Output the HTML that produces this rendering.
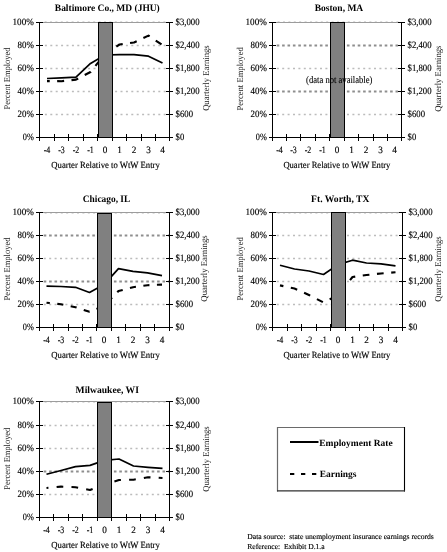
<!DOCTYPE html>
<html><head><meta charset="utf-8"><style>html,body{margin:0;padding:0;background:#fff;}svg{display:block;will-change:transform;}text{font-family:"Liberation Serif",serif;text-rendering:geometricPrecision;}</style></head><body>
<svg width="447" height="552" viewBox="0 0 447 552" font-family="Liberation Serif">
<rect width="447" height="552" fill="#fff"/>
<line x1="44.9" y1="45.5" x2="169" y2="45.5" stroke="#bcbcbc" stroke-width="1.3" stroke-dasharray="2 3.4"/>
<line x1="44.9" y1="68.5" x2="169" y2="68.5" stroke="#bcbcbc" stroke-width="1.3" stroke-dasharray="2 3.4"/>
<line x1="44.9" y1="91.5" x2="169" y2="91.5" stroke="#bcbcbc" stroke-width="1.3" stroke-dasharray="2 3.4"/>
<line x1="44.9" y1="114.5" x2="169" y2="114.5" stroke="#bcbcbc" stroke-width="1.3" stroke-dasharray="2 3.4"/>
<line x1="39" y1="22.5" x2="169" y2="22.5" stroke="#9c9c9c" stroke-width="1"/>
<line x1="44.6" y1="21.5" x2="169" y2="21.5" stroke="#dcdcdc" stroke-width="1" stroke-dasharray="2 3.4"/>
<polyline points="47.00,78.50 61.50,77.80 76.00,77.20 90.50,63.40 105.00,55.00 119.50,54.60 134.00,54.60 148.50,56.20 162.50,63.10" fill="none" stroke="#000" stroke-width="1.7" stroke-linejoin="round"/>
<polyline points="47.00,81.10 61.50,81.20 76.00,79.60 90.50,72.00 105.00,54.00 119.50,44.50 134.00,42.50 148.50,35.60 162.50,45.10" fill="none" stroke="#000" stroke-width="2.1" stroke-dasharray="7.0 7.40" stroke-dashoffset="4.25" stroke-linejoin="round"/>
<rect x="98.5" y="22.5" width="14" height="115" fill="#808080" stroke="#000" stroke-width="1"/>
<line x1="39.5" y1="22" x2="39.5" y2="138" stroke="#000" stroke-width="1"/>
<line x1="169.5" y1="22" x2="169.5" y2="138" stroke="#000" stroke-width="1"/>
<line x1="36" y1="137.5" x2="173" y2="137.5" stroke="#000" stroke-width="1"/>
<line x1="36" y1="22.5" x2="43" y2="22.5" stroke="#000" stroke-width="1"/>
<line x1="166" y1="22.5" x2="173" y2="22.5" stroke="#000" stroke-width="1"/>
<line x1="36" y1="45.5" x2="43" y2="45.5" stroke="#000" stroke-width="1"/>
<line x1="166" y1="45.5" x2="173" y2="45.5" stroke="#000" stroke-width="1"/>
<line x1="36" y1="68.5" x2="43" y2="68.5" stroke="#000" stroke-width="1"/>
<line x1="166" y1="68.5" x2="173" y2="68.5" stroke="#000" stroke-width="1"/>
<line x1="36" y1="91.5" x2="43" y2="91.5" stroke="#000" stroke-width="1"/>
<line x1="166" y1="91.5" x2="173" y2="91.5" stroke="#000" stroke-width="1"/>
<line x1="36" y1="114.5" x2="43" y2="114.5" stroke="#000" stroke-width="1"/>
<line x1="166" y1="114.5" x2="173" y2="114.5" stroke="#000" stroke-width="1"/>
<line x1="36" y1="137.5" x2="43" y2="137.5" stroke="#000" stroke-width="1"/>
<line x1="166" y1="137.5" x2="173" y2="137.5" stroke="#000" stroke-width="1"/>
<line x1="39.5" y1="134" x2="39.5" y2="141" stroke="#000" stroke-width="1"/>
<line x1="54.5" y1="134" x2="54.5" y2="141" stroke="#000" stroke-width="1"/>
<line x1="68.5" y1="134" x2="68.5" y2="141" stroke="#000" stroke-width="1"/>
<line x1="83.5" y1="134" x2="83.5" y2="141" stroke="#000" stroke-width="1"/>
<line x1="97.5" y1="134" x2="97.5" y2="141" stroke="#000" stroke-width="1"/>
<line x1="112.5" y1="134" x2="112.5" y2="141" stroke="#000" stroke-width="1"/>
<line x1="126.5" y1="134" x2="126.5" y2="141" stroke="#000" stroke-width="1"/>
<line x1="141.5" y1="134" x2="141.5" y2="141" stroke="#000" stroke-width="1"/>
<line x1="155.5" y1="134" x2="155.5" y2="141" stroke="#000" stroke-width="1"/>
<line x1="169.5" y1="134" x2="169.5" y2="141" stroke="#000" stroke-width="1"/>
<text x="33.80" y="25.20" font-size="9.6" font-weight="normal" text-anchor="end" fill="#000" textLength="21.30" lengthAdjust="spacingAndGlyphs" stroke="#000" stroke-width="0.15">100%</text>
<text x="175.60" y="25.20" font-size="9.6" font-weight="normal" text-anchor="start" fill="#000" textLength="24.00" lengthAdjust="spacingAndGlyphs" stroke="#000" stroke-width="0.15">$3,000</text>
<text x="33.80" y="48.20" font-size="9.6" font-weight="normal" text-anchor="end" fill="#000" textLength="16.30" lengthAdjust="spacingAndGlyphs" stroke="#000" stroke-width="0.15">80%</text>
<text x="175.60" y="48.20" font-size="9.6" font-weight="normal" text-anchor="start" fill="#000" textLength="24.00" lengthAdjust="spacingAndGlyphs" stroke="#000" stroke-width="0.15">$2,400</text>
<text x="33.80" y="71.20" font-size="9.6" font-weight="normal" text-anchor="end" fill="#000" textLength="16.30" lengthAdjust="spacingAndGlyphs" stroke="#000" stroke-width="0.15">60%</text>
<text x="175.60" y="71.20" font-size="9.6" font-weight="normal" text-anchor="start" fill="#000" textLength="24.00" lengthAdjust="spacingAndGlyphs" stroke="#000" stroke-width="0.15">$1,800</text>
<text x="33.80" y="94.20" font-size="9.6" font-weight="normal" text-anchor="end" fill="#000" textLength="16.30" lengthAdjust="spacingAndGlyphs" stroke="#000" stroke-width="0.15">40%</text>
<text x="175.60" y="94.20" font-size="9.6" font-weight="normal" text-anchor="start" fill="#000" textLength="24.00" lengthAdjust="spacingAndGlyphs" stroke="#000" stroke-width="0.15">$1,200</text>
<text x="33.80" y="117.20" font-size="9.6" font-weight="normal" text-anchor="end" fill="#000" textLength="16.30" lengthAdjust="spacingAndGlyphs" stroke="#000" stroke-width="0.15">20%</text>
<text x="175.60" y="117.20" font-size="9.6" font-weight="normal" text-anchor="start" fill="#000" textLength="17.40" lengthAdjust="spacingAndGlyphs" stroke="#000" stroke-width="0.15">$600</text>
<text x="33.80" y="140.20" font-size="9.6" font-weight="normal" text-anchor="end" fill="#000" textLength="11.00" lengthAdjust="spacingAndGlyphs" stroke="#000" stroke-width="0.15">0%</text>
<text x="175.60" y="140.20" font-size="9.6" font-weight="normal" text-anchor="start" fill="#000" textLength="8.60" lengthAdjust="spacingAndGlyphs" stroke="#000" stroke-width="0.15">$0</text>
<text x="47.00" y="152.80" font-size="9.8" font-weight="normal" text-anchor="middle" fill="#000" textLength="6.60" lengthAdjust="spacingAndGlyphs" stroke="#000" stroke-width="0.15">-4</text>
<text x="61.50" y="152.80" font-size="9.8" font-weight="normal" text-anchor="middle" fill="#000" textLength="6.60" lengthAdjust="spacingAndGlyphs" stroke="#000" stroke-width="0.15">-3</text>
<text x="76.00" y="152.80" font-size="9.8" font-weight="normal" text-anchor="middle" fill="#000" textLength="6.60" lengthAdjust="spacingAndGlyphs" stroke="#000" stroke-width="0.15">-2</text>
<text x="90.50" y="152.80" font-size="9.8" font-weight="normal" text-anchor="middle" fill="#000" textLength="6.60" lengthAdjust="spacingAndGlyphs" stroke="#000" stroke-width="0.15">-1</text>
<text x="105.00" y="152.80" font-size="9.8" font-weight="normal" text-anchor="middle" fill="#000" textLength="4.60" lengthAdjust="spacingAndGlyphs" stroke="#000" stroke-width="0.15">0</text>
<text x="119.50" y="152.80" font-size="9.8" font-weight="normal" text-anchor="middle" fill="#000" textLength="4.60" lengthAdjust="spacingAndGlyphs" stroke="#000" stroke-width="0.15">1</text>
<text x="134.00" y="152.80" font-size="9.8" font-weight="normal" text-anchor="middle" fill="#000" textLength="4.60" lengthAdjust="spacingAndGlyphs" stroke="#000" stroke-width="0.15">2</text>
<text x="148.50" y="152.80" font-size="9.8" font-weight="normal" text-anchor="middle" fill="#000" textLength="4.60" lengthAdjust="spacingAndGlyphs" stroke="#000" stroke-width="0.15">3</text>
<text x="162.50" y="152.80" font-size="9.8" font-weight="normal" text-anchor="middle" fill="#000" textLength="4.60" lengthAdjust="spacingAndGlyphs" stroke="#000" stroke-width="0.15">4</text>
<text x="51.30" y="167.80" font-size="9.4" font-weight="normal" text-anchor="start" fill="#000" textLength="108.50" lengthAdjust="spacingAndGlyphs" stroke="#000" stroke-width="0.15">Quarter Relative to WtW Entry</text>
<text transform="translate(9.90,78.50) rotate(-90)" x="0" y="0" font-size="9" font-weight="normal" text-anchor="middle" fill="#222" textLength="62.00" lengthAdjust="spacingAndGlyphs">Percent Employed</text>
<text transform="translate(209.20,78.10) rotate(-90)" x="0" y="0" font-size="9" font-weight="normal" text-anchor="middle" fill="#222" textLength="65.50" lengthAdjust="spacingAndGlyphs">Quarterly Earnings</text>
<text x="54.80" y="11.00" font-size="9.8" font-weight="bold" text-anchor="start" fill="#000" textLength="105.00" lengthAdjust="spacingAndGlyphs">Baltimore Co., MD (JHU)</text>
<line x1="276.7" y1="45.5" x2="401" y2="45.5" stroke="#8e8e8e" stroke-width="1.8" stroke-dasharray="2.6 2.8"/>
<line x1="276.8" y1="68.5" x2="401" y2="68.5" stroke="#bcbcbc" stroke-width="1.3" stroke-dasharray="2 3.4"/>
<line x1="276.7" y1="91.5" x2="401" y2="91.5" stroke="#8e8e8e" stroke-width="1.8" stroke-dasharray="2.6 2.8"/>
<line x1="276.8" y1="114.5" x2="401" y2="114.5" stroke="#bcbcbc" stroke-width="1.3" stroke-dasharray="2 3.4"/>
<line x1="272" y1="22.5" x2="401" y2="22.5" stroke="#9c9c9c" stroke-width="1"/>
<line x1="277.6" y1="21.5" x2="401" y2="21.5" stroke="#dcdcdc" stroke-width="1" stroke-dasharray="2 3.4"/>
<rect x="330.5" y="22.5" width="14" height="115" fill="#808080" stroke="#000" stroke-width="1"/>
<line x1="272.5" y1="22" x2="272.5" y2="138" stroke="#000" stroke-width="1"/>
<line x1="401.5" y1="22" x2="401.5" y2="138" stroke="#000" stroke-width="1"/>
<line x1="269" y1="137.5" x2="405" y2="137.5" stroke="#000" stroke-width="1"/>
<line x1="269" y1="22.5" x2="276" y2="22.5" stroke="#000" stroke-width="1"/>
<line x1="398" y1="22.5" x2="405" y2="22.5" stroke="#000" stroke-width="1"/>
<line x1="269" y1="45.5" x2="276" y2="45.5" stroke="#000" stroke-width="1"/>
<line x1="398" y1="45.5" x2="405" y2="45.5" stroke="#000" stroke-width="1"/>
<line x1="269" y1="68.5" x2="276" y2="68.5" stroke="#000" stroke-width="1"/>
<line x1="398" y1="68.5" x2="405" y2="68.5" stroke="#000" stroke-width="1"/>
<line x1="269" y1="91.5" x2="276" y2="91.5" stroke="#000" stroke-width="1"/>
<line x1="398" y1="91.5" x2="405" y2="91.5" stroke="#000" stroke-width="1"/>
<line x1="269" y1="114.5" x2="276" y2="114.5" stroke="#000" stroke-width="1"/>
<line x1="398" y1="114.5" x2="405" y2="114.5" stroke="#000" stroke-width="1"/>
<line x1="269" y1="137.5" x2="276" y2="137.5" stroke="#000" stroke-width="1"/>
<line x1="398" y1="137.5" x2="405" y2="137.5" stroke="#000" stroke-width="1"/>
<line x1="272.5" y1="134" x2="272.5" y2="141" stroke="#000" stroke-width="1"/>
<line x1="286.5" y1="134" x2="286.5" y2="141" stroke="#000" stroke-width="1"/>
<line x1="300.5" y1="134" x2="300.5" y2="141" stroke="#000" stroke-width="1"/>
<line x1="315.5" y1="134" x2="315.5" y2="141" stroke="#000" stroke-width="1"/>
<line x1="329.5" y1="134" x2="329.5" y2="141" stroke="#000" stroke-width="1"/>
<line x1="344.5" y1="134" x2="344.5" y2="141" stroke="#000" stroke-width="1"/>
<line x1="358.5" y1="134" x2="358.5" y2="141" stroke="#000" stroke-width="1"/>
<line x1="373.5" y1="134" x2="373.5" y2="141" stroke="#000" stroke-width="1"/>
<line x1="387.5" y1="134" x2="387.5" y2="141" stroke="#000" stroke-width="1"/>
<line x1="401.5" y1="134" x2="401.5" y2="141" stroke="#000" stroke-width="1"/>
<text x="266.80" y="25.20" font-size="9.6" font-weight="normal" text-anchor="end" fill="#000" textLength="21.30" lengthAdjust="spacingAndGlyphs" stroke="#000" stroke-width="0.15">100%</text>
<text x="407.60" y="25.20" font-size="9.6" font-weight="normal" text-anchor="start" fill="#000" textLength="24.00" lengthAdjust="spacingAndGlyphs" stroke="#000" stroke-width="0.15">$3,000</text>
<text x="266.80" y="48.20" font-size="9.6" font-weight="normal" text-anchor="end" fill="#000" textLength="16.30" lengthAdjust="spacingAndGlyphs" stroke="#000" stroke-width="0.15">80%</text>
<text x="407.60" y="48.20" font-size="9.6" font-weight="normal" text-anchor="start" fill="#000" textLength="24.00" lengthAdjust="spacingAndGlyphs" stroke="#000" stroke-width="0.15">$2,400</text>
<text x="266.80" y="71.20" font-size="9.6" font-weight="normal" text-anchor="end" fill="#000" textLength="16.30" lengthAdjust="spacingAndGlyphs" stroke="#000" stroke-width="0.15">60%</text>
<text x="407.60" y="71.20" font-size="9.6" font-weight="normal" text-anchor="start" fill="#000" textLength="24.00" lengthAdjust="spacingAndGlyphs" stroke="#000" stroke-width="0.15">$1,800</text>
<text x="266.80" y="94.20" font-size="9.6" font-weight="normal" text-anchor="end" fill="#000" textLength="16.30" lengthAdjust="spacingAndGlyphs" stroke="#000" stroke-width="0.15">40%</text>
<text x="407.60" y="94.20" font-size="9.6" font-weight="normal" text-anchor="start" fill="#000" textLength="24.00" lengthAdjust="spacingAndGlyphs" stroke="#000" stroke-width="0.15">$1,200</text>
<text x="266.80" y="117.20" font-size="9.6" font-weight="normal" text-anchor="end" fill="#000" textLength="16.30" lengthAdjust="spacingAndGlyphs" stroke="#000" stroke-width="0.15">20%</text>
<text x="407.60" y="117.20" font-size="9.6" font-weight="normal" text-anchor="start" fill="#000" textLength="17.40" lengthAdjust="spacingAndGlyphs" stroke="#000" stroke-width="0.15">$600</text>
<text x="266.80" y="140.20" font-size="9.6" font-weight="normal" text-anchor="end" fill="#000" textLength="11.00" lengthAdjust="spacingAndGlyphs" stroke="#000" stroke-width="0.15">0%</text>
<text x="407.60" y="140.20" font-size="9.6" font-weight="normal" text-anchor="start" fill="#000" textLength="8.60" lengthAdjust="spacingAndGlyphs" stroke="#000" stroke-width="0.15">$0</text>
<text x="279.50" y="152.80" font-size="9.8" font-weight="normal" text-anchor="middle" fill="#000" textLength="6.60" lengthAdjust="spacingAndGlyphs" stroke="#000" stroke-width="0.15">-4</text>
<text x="293.50" y="152.80" font-size="9.8" font-weight="normal" text-anchor="middle" fill="#000" textLength="6.60" lengthAdjust="spacingAndGlyphs" stroke="#000" stroke-width="0.15">-3</text>
<text x="308.00" y="152.80" font-size="9.8" font-weight="normal" text-anchor="middle" fill="#000" textLength="6.60" lengthAdjust="spacingAndGlyphs" stroke="#000" stroke-width="0.15">-2</text>
<text x="322.50" y="152.80" font-size="9.8" font-weight="normal" text-anchor="middle" fill="#000" textLength="6.60" lengthAdjust="spacingAndGlyphs" stroke="#000" stroke-width="0.15">-1</text>
<text x="337.00" y="152.80" font-size="9.8" font-weight="normal" text-anchor="middle" fill="#000" textLength="4.60" lengthAdjust="spacingAndGlyphs" stroke="#000" stroke-width="0.15">0</text>
<text x="351.50" y="152.80" font-size="9.8" font-weight="normal" text-anchor="middle" fill="#000" textLength="4.60" lengthAdjust="spacingAndGlyphs" stroke="#000" stroke-width="0.15">1</text>
<text x="366.00" y="152.80" font-size="9.8" font-weight="normal" text-anchor="middle" fill="#000" textLength="4.60" lengthAdjust="spacingAndGlyphs" stroke="#000" stroke-width="0.15">2</text>
<text x="380.50" y="152.80" font-size="9.8" font-weight="normal" text-anchor="middle" fill="#000" textLength="4.60" lengthAdjust="spacingAndGlyphs" stroke="#000" stroke-width="0.15">3</text>
<text x="394.50" y="152.80" font-size="9.8" font-weight="normal" text-anchor="middle" fill="#000" textLength="4.60" lengthAdjust="spacingAndGlyphs" stroke="#000" stroke-width="0.15">4</text>
<text x="283.40" y="167.80" font-size="9.4" font-weight="normal" text-anchor="start" fill="#000" textLength="107.00" lengthAdjust="spacingAndGlyphs" stroke="#000" stroke-width="0.15">Quarter Relative to WtW Entry</text>
<text transform="translate(242.60,78.90) rotate(-90)" x="0" y="0" font-size="9" font-weight="normal" text-anchor="middle" fill="#222" textLength="63.40" lengthAdjust="spacingAndGlyphs">Percent Employed</text>
<text transform="translate(440.80,78.70) rotate(-90)" x="0" y="0" font-size="9" font-weight="normal" text-anchor="middle" fill="#222" textLength="66.30" lengthAdjust="spacingAndGlyphs">Quarterly Earnings</text>
<text x="314.70" y="11.00" font-size="9.8" font-weight="bold" text-anchor="start" fill="#000" textLength="48.50" lengthAdjust="spacingAndGlyphs">Boston, MA</text>
<text x="306.1" y="83.2" font-size="10" textLength="66.3" lengthAdjust="spacingAndGlyphs" stroke="#000" stroke-width="0.12">(data not available)</text>
<line x1="43.7" y1="235.5" x2="169" y2="235.5" stroke="#8e8e8e" stroke-width="1.8" stroke-dasharray="2.6 2.8"/>
<line x1="43.8" y1="258.5" x2="169" y2="258.5" stroke="#bcbcbc" stroke-width="1.3" stroke-dasharray="2 3.4"/>
<line x1="43.7" y1="281.5" x2="169" y2="281.5" stroke="#8e8e8e" stroke-width="1.8" stroke-dasharray="2.6 2.8"/>
<line x1="43.8" y1="304.5" x2="169" y2="304.5" stroke="#bcbcbc" stroke-width="1.3" stroke-dasharray="2 3.4"/>
<line x1="39" y1="212.5" x2="169" y2="212.5" stroke="#9c9c9c" stroke-width="1"/>
<line x1="44.6" y1="213.5" x2="169" y2="213.5" stroke="#dcdcdc" stroke-width="1" stroke-dasharray="2 3.4"/>
<polyline points="46.50,286.20 61.00,286.50 75.50,287.30 89.50,292.50 104.00,284.60 118.50,268.60 133.00,271.30 147.50,272.80 162.00,275.60" fill="none" stroke="#000" stroke-width="1.7" stroke-linejoin="round"/>
<polyline points="46.50,302.70 61.00,304.30 75.50,307.20 89.50,311.80 104.00,306.00 118.50,291.00 133.00,287.20 147.50,285.20 162.00,284.60" fill="none" stroke="#000" stroke-width="2.1" stroke-dasharray="6.1 7.50" stroke-dashoffset="2.75" stroke-linejoin="round"/>
<rect x="97.5" y="213.5" width="14" height="114" fill="#808080" stroke="#000" stroke-width="1"/>
<line x1="39.5" y1="212" x2="39.5" y2="328" stroke="#000" stroke-width="1"/>
<line x1="169.5" y1="212" x2="169.5" y2="328" stroke="#000" stroke-width="1"/>
<line x1="36" y1="327.5" x2="173" y2="327.5" stroke="#000" stroke-width="1"/>
<line x1="36" y1="212.5" x2="43" y2="212.5" stroke="#000" stroke-width="1"/>
<line x1="166" y1="212.5" x2="173" y2="212.5" stroke="#000" stroke-width="1"/>
<line x1="36" y1="235.5" x2="43" y2="235.5" stroke="#000" stroke-width="1"/>
<line x1="166" y1="235.5" x2="173" y2="235.5" stroke="#000" stroke-width="1"/>
<line x1="36" y1="258.5" x2="43" y2="258.5" stroke="#000" stroke-width="1"/>
<line x1="166" y1="258.5" x2="173" y2="258.5" stroke="#000" stroke-width="1"/>
<line x1="36" y1="281.5" x2="43" y2="281.5" stroke="#000" stroke-width="1"/>
<line x1="166" y1="281.5" x2="173" y2="281.5" stroke="#000" stroke-width="1"/>
<line x1="36" y1="304.5" x2="43" y2="304.5" stroke="#000" stroke-width="1"/>
<line x1="166" y1="304.5" x2="173" y2="304.5" stroke="#000" stroke-width="1"/>
<line x1="36" y1="327.5" x2="43" y2="327.5" stroke="#000" stroke-width="1"/>
<line x1="166" y1="327.5" x2="173" y2="327.5" stroke="#000" stroke-width="1"/>
<line x1="39.5" y1="324" x2="39.5" y2="331" stroke="#000" stroke-width="1"/>
<line x1="53.5" y1="324" x2="53.5" y2="331" stroke="#000" stroke-width="1"/>
<line x1="68.5" y1="324" x2="68.5" y2="331" stroke="#000" stroke-width="1"/>
<line x1="82.5" y1="324" x2="82.5" y2="331" stroke="#000" stroke-width="1"/>
<line x1="96.5" y1="324" x2="96.5" y2="331" stroke="#000" stroke-width="1"/>
<line x1="111.5" y1="324" x2="111.5" y2="331" stroke="#000" stroke-width="1"/>
<line x1="125.5" y1="324" x2="125.5" y2="331" stroke="#000" stroke-width="1"/>
<line x1="140.5" y1="324" x2="140.5" y2="331" stroke="#000" stroke-width="1"/>
<line x1="154.5" y1="324" x2="154.5" y2="331" stroke="#000" stroke-width="1"/>
<line x1="169.5" y1="324" x2="169.5" y2="331" stroke="#000" stroke-width="1"/>
<text x="33.80" y="215.20" font-size="9.6" font-weight="normal" text-anchor="end" fill="#000" textLength="21.30" lengthAdjust="spacingAndGlyphs" stroke="#000" stroke-width="0.15">100%</text>
<text x="175.60" y="215.20" font-size="9.6" font-weight="normal" text-anchor="start" fill="#000" textLength="24.00" lengthAdjust="spacingAndGlyphs" stroke="#000" stroke-width="0.15">$3,000</text>
<text x="33.80" y="238.20" font-size="9.6" font-weight="normal" text-anchor="end" fill="#000" textLength="16.30" lengthAdjust="spacingAndGlyphs" stroke="#000" stroke-width="0.15">80%</text>
<text x="175.60" y="238.20" font-size="9.6" font-weight="normal" text-anchor="start" fill="#000" textLength="24.00" lengthAdjust="spacingAndGlyphs" stroke="#000" stroke-width="0.15">$2,400</text>
<text x="33.80" y="261.20" font-size="9.6" font-weight="normal" text-anchor="end" fill="#000" textLength="16.30" lengthAdjust="spacingAndGlyphs" stroke="#000" stroke-width="0.15">60%</text>
<text x="175.60" y="261.20" font-size="9.6" font-weight="normal" text-anchor="start" fill="#000" textLength="24.00" lengthAdjust="spacingAndGlyphs" stroke="#000" stroke-width="0.15">$1,800</text>
<text x="33.80" y="284.20" font-size="9.6" font-weight="normal" text-anchor="end" fill="#000" textLength="16.30" lengthAdjust="spacingAndGlyphs" stroke="#000" stroke-width="0.15">40%</text>
<text x="175.60" y="284.20" font-size="9.6" font-weight="normal" text-anchor="start" fill="#000" textLength="24.00" lengthAdjust="spacingAndGlyphs" stroke="#000" stroke-width="0.15">$1,200</text>
<text x="33.80" y="307.20" font-size="9.6" font-weight="normal" text-anchor="end" fill="#000" textLength="16.30" lengthAdjust="spacingAndGlyphs" stroke="#000" stroke-width="0.15">20%</text>
<text x="175.60" y="307.20" font-size="9.6" font-weight="normal" text-anchor="start" fill="#000" textLength="17.40" lengthAdjust="spacingAndGlyphs" stroke="#000" stroke-width="0.15">$600</text>
<text x="33.80" y="330.20" font-size="9.6" font-weight="normal" text-anchor="end" fill="#000" textLength="11.00" lengthAdjust="spacingAndGlyphs" stroke="#000" stroke-width="0.15">0%</text>
<text x="175.60" y="330.20" font-size="9.6" font-weight="normal" text-anchor="start" fill="#000" textLength="8.60" lengthAdjust="spacingAndGlyphs" stroke="#000" stroke-width="0.15">$0</text>
<text x="46.50" y="342.80" font-size="9.8" font-weight="normal" text-anchor="middle" fill="#000" textLength="6.60" lengthAdjust="spacingAndGlyphs" stroke="#000" stroke-width="0.15">-4</text>
<text x="61.00" y="342.80" font-size="9.8" font-weight="normal" text-anchor="middle" fill="#000" textLength="6.60" lengthAdjust="spacingAndGlyphs" stroke="#000" stroke-width="0.15">-3</text>
<text x="75.50" y="342.80" font-size="9.8" font-weight="normal" text-anchor="middle" fill="#000" textLength="6.60" lengthAdjust="spacingAndGlyphs" stroke="#000" stroke-width="0.15">-2</text>
<text x="89.50" y="342.80" font-size="9.8" font-weight="normal" text-anchor="middle" fill="#000" textLength="6.60" lengthAdjust="spacingAndGlyphs" stroke="#000" stroke-width="0.15">-1</text>
<text x="104.00" y="342.80" font-size="9.8" font-weight="normal" text-anchor="middle" fill="#000" textLength="4.60" lengthAdjust="spacingAndGlyphs" stroke="#000" stroke-width="0.15">0</text>
<text x="118.50" y="342.80" font-size="9.8" font-weight="normal" text-anchor="middle" fill="#000" textLength="4.60" lengthAdjust="spacingAndGlyphs" stroke="#000" stroke-width="0.15">1</text>
<text x="133.00" y="342.80" font-size="9.8" font-weight="normal" text-anchor="middle" fill="#000" textLength="4.60" lengthAdjust="spacingAndGlyphs" stroke="#000" stroke-width="0.15">2</text>
<text x="147.50" y="342.80" font-size="9.8" font-weight="normal" text-anchor="middle" fill="#000" textLength="4.60" lengthAdjust="spacingAndGlyphs" stroke="#000" stroke-width="0.15">3</text>
<text x="162.00" y="342.80" font-size="9.8" font-weight="normal" text-anchor="middle" fill="#000" textLength="4.60" lengthAdjust="spacingAndGlyphs" stroke="#000" stroke-width="0.15">4</text>
<text x="51.30" y="357.80" font-size="9.4" font-weight="normal" text-anchor="start" fill="#000" textLength="108.50" lengthAdjust="spacingAndGlyphs" stroke="#000" stroke-width="0.15">Quarter Relative to WtW Entry</text>
<text transform="translate(9.90,268.90) rotate(-90)" x="0" y="0" font-size="9" font-weight="normal" text-anchor="middle" fill="#222" textLength="63.00" lengthAdjust="spacingAndGlyphs">Percent Employed</text>
<text transform="translate(207.30,268.50) rotate(-90)" x="0" y="0" font-size="9" font-weight="normal" text-anchor="middle" fill="#222" textLength="66.30" lengthAdjust="spacingAndGlyphs">Quarterly Earnings</text>
<text x="82.80" y="201.80" font-size="9.8" font-weight="bold" text-anchor="start" fill="#000" textLength="47.50" lengthAdjust="spacingAndGlyphs">Chicago, IL</text>
<line x1="276.8" y1="235.5" x2="402" y2="235.5" stroke="#bcbcbc" stroke-width="1.3" stroke-dasharray="2 3.4"/>
<line x1="276.8" y1="258.5" x2="402" y2="258.5" stroke="#bcbcbc" stroke-width="1.3" stroke-dasharray="2 3.4"/>
<line x1="276.8" y1="281.5" x2="402" y2="281.5" stroke="#bcbcbc" stroke-width="1.3" stroke-dasharray="2 3.4"/>
<line x1="276.8" y1="304.5" x2="402" y2="304.5" stroke="#bcbcbc" stroke-width="1.3" stroke-dasharray="2 3.4"/>
<line x1="272" y1="212.5" x2="402" y2="212.5" stroke="#9c9c9c" stroke-width="1"/>
<line x1="277.6" y1="213.5" x2="402" y2="213.5" stroke="#dcdcdc" stroke-width="1" stroke-dasharray="2 3.4"/>
<polyline points="280.00,265.20 294.50,269.00 309.00,271.00 323.50,274.50 338.00,264.60 352.50,260.20 366.50,263.00 381.00,263.80 395.50,265.90" fill="none" stroke="#000" stroke-width="1.7" stroke-linejoin="round"/>
<polyline points="280.00,285.40 294.50,288.50 309.00,295.00 323.50,302.50 338.00,295.00 352.50,277.00 366.50,275.00 381.00,273.50 395.50,272.20" fill="none" stroke="#000" stroke-width="2.1" stroke-dasharray="6.7 7.60" stroke-dashoffset="3.25" stroke-linejoin="round"/>
<rect x="331.5" y="212.5" width="14" height="115" fill="#808080" stroke="#000" stroke-width="1"/>
<line x1="272.5" y1="212" x2="272.5" y2="328" stroke="#000" stroke-width="1"/>
<line x1="402.5" y1="212" x2="402.5" y2="328" stroke="#000" stroke-width="1"/>
<line x1="269" y1="327.5" x2="406" y2="327.5" stroke="#000" stroke-width="1"/>
<line x1="269" y1="212.5" x2="276" y2="212.5" stroke="#000" stroke-width="1"/>
<line x1="399" y1="212.5" x2="406" y2="212.5" stroke="#000" stroke-width="1"/>
<line x1="269" y1="235.5" x2="276" y2="235.5" stroke="#000" stroke-width="1"/>
<line x1="399" y1="235.5" x2="406" y2="235.5" stroke="#000" stroke-width="1"/>
<line x1="269" y1="258.5" x2="276" y2="258.5" stroke="#000" stroke-width="1"/>
<line x1="399" y1="258.5" x2="406" y2="258.5" stroke="#000" stroke-width="1"/>
<line x1="269" y1="281.5" x2="276" y2="281.5" stroke="#000" stroke-width="1"/>
<line x1="399" y1="281.5" x2="406" y2="281.5" stroke="#000" stroke-width="1"/>
<line x1="269" y1="304.5" x2="276" y2="304.5" stroke="#000" stroke-width="1"/>
<line x1="399" y1="304.5" x2="406" y2="304.5" stroke="#000" stroke-width="1"/>
<line x1="269" y1="327.5" x2="276" y2="327.5" stroke="#000" stroke-width="1"/>
<line x1="399" y1="327.5" x2="406" y2="327.5" stroke="#000" stroke-width="1"/>
<line x1="272.5" y1="324" x2="272.5" y2="331" stroke="#000" stroke-width="1"/>
<line x1="287.5" y1="324" x2="287.5" y2="331" stroke="#000" stroke-width="1"/>
<line x1="301.5" y1="324" x2="301.5" y2="331" stroke="#000" stroke-width="1"/>
<line x1="316.5" y1="324" x2="316.5" y2="331" stroke="#000" stroke-width="1"/>
<line x1="330.5" y1="324" x2="330.5" y2="331" stroke="#000" stroke-width="1"/>
<line x1="345.5" y1="324" x2="345.5" y2="331" stroke="#000" stroke-width="1"/>
<line x1="359.5" y1="324" x2="359.5" y2="331" stroke="#000" stroke-width="1"/>
<line x1="373.5" y1="324" x2="373.5" y2="331" stroke="#000" stroke-width="1"/>
<line x1="388.5" y1="324" x2="388.5" y2="331" stroke="#000" stroke-width="1"/>
<line x1="402.5" y1="324" x2="402.5" y2="331" stroke="#000" stroke-width="1"/>
<text x="266.80" y="215.20" font-size="9.6" font-weight="normal" text-anchor="end" fill="#000" textLength="21.30" lengthAdjust="spacingAndGlyphs" stroke="#000" stroke-width="0.15">100%</text>
<text x="408.60" y="215.20" font-size="9.6" font-weight="normal" text-anchor="start" fill="#000" textLength="24.00" lengthAdjust="spacingAndGlyphs" stroke="#000" stroke-width="0.15">$3,000</text>
<text x="266.80" y="238.20" font-size="9.6" font-weight="normal" text-anchor="end" fill="#000" textLength="16.30" lengthAdjust="spacingAndGlyphs" stroke="#000" stroke-width="0.15">80%</text>
<text x="408.60" y="238.20" font-size="9.6" font-weight="normal" text-anchor="start" fill="#000" textLength="24.00" lengthAdjust="spacingAndGlyphs" stroke="#000" stroke-width="0.15">$2,400</text>
<text x="266.80" y="261.20" font-size="9.6" font-weight="normal" text-anchor="end" fill="#000" textLength="16.30" lengthAdjust="spacingAndGlyphs" stroke="#000" stroke-width="0.15">60%</text>
<text x="408.60" y="261.20" font-size="9.6" font-weight="normal" text-anchor="start" fill="#000" textLength="24.00" lengthAdjust="spacingAndGlyphs" stroke="#000" stroke-width="0.15">$1,800</text>
<text x="266.80" y="284.20" font-size="9.6" font-weight="normal" text-anchor="end" fill="#000" textLength="16.30" lengthAdjust="spacingAndGlyphs" stroke="#000" stroke-width="0.15">40%</text>
<text x="408.60" y="284.20" font-size="9.6" font-weight="normal" text-anchor="start" fill="#000" textLength="24.00" lengthAdjust="spacingAndGlyphs" stroke="#000" stroke-width="0.15">$1,200</text>
<text x="266.80" y="307.20" font-size="9.6" font-weight="normal" text-anchor="end" fill="#000" textLength="16.30" lengthAdjust="spacingAndGlyphs" stroke="#000" stroke-width="0.15">20%</text>
<text x="408.60" y="307.20" font-size="9.6" font-weight="normal" text-anchor="start" fill="#000" textLength="17.40" lengthAdjust="spacingAndGlyphs" stroke="#000" stroke-width="0.15">$600</text>
<text x="266.80" y="330.20" font-size="9.6" font-weight="normal" text-anchor="end" fill="#000" textLength="11.00" lengthAdjust="spacingAndGlyphs" stroke="#000" stroke-width="0.15">0%</text>
<text x="408.60" y="330.20" font-size="9.6" font-weight="normal" text-anchor="start" fill="#000" textLength="8.60" lengthAdjust="spacingAndGlyphs" stroke="#000" stroke-width="0.15">$0</text>
<text x="280.00" y="342.80" font-size="9.8" font-weight="normal" text-anchor="middle" fill="#000" textLength="6.60" lengthAdjust="spacingAndGlyphs" stroke="#000" stroke-width="0.15">-4</text>
<text x="294.50" y="342.80" font-size="9.8" font-weight="normal" text-anchor="middle" fill="#000" textLength="6.60" lengthAdjust="spacingAndGlyphs" stroke="#000" stroke-width="0.15">-3</text>
<text x="309.00" y="342.80" font-size="9.8" font-weight="normal" text-anchor="middle" fill="#000" textLength="6.60" lengthAdjust="spacingAndGlyphs" stroke="#000" stroke-width="0.15">-2</text>
<text x="323.50" y="342.80" font-size="9.8" font-weight="normal" text-anchor="middle" fill="#000" textLength="6.60" lengthAdjust="spacingAndGlyphs" stroke="#000" stroke-width="0.15">-1</text>
<text x="338.00" y="342.80" font-size="9.8" font-weight="normal" text-anchor="middle" fill="#000" textLength="4.60" lengthAdjust="spacingAndGlyphs" stroke="#000" stroke-width="0.15">0</text>
<text x="352.50" y="342.80" font-size="9.8" font-weight="normal" text-anchor="middle" fill="#000" textLength="4.60" lengthAdjust="spacingAndGlyphs" stroke="#000" stroke-width="0.15">1</text>
<text x="366.50" y="342.80" font-size="9.8" font-weight="normal" text-anchor="middle" fill="#000" textLength="4.60" lengthAdjust="spacingAndGlyphs" stroke="#000" stroke-width="0.15">2</text>
<text x="381.00" y="342.80" font-size="9.8" font-weight="normal" text-anchor="middle" fill="#000" textLength="4.60" lengthAdjust="spacingAndGlyphs" stroke="#000" stroke-width="0.15">3</text>
<text x="395.50" y="342.80" font-size="9.8" font-weight="normal" text-anchor="middle" fill="#000" textLength="4.60" lengthAdjust="spacingAndGlyphs" stroke="#000" stroke-width="0.15">4</text>
<text x="283.40" y="357.80" font-size="9.4" font-weight="normal" text-anchor="start" fill="#000" textLength="107.00" lengthAdjust="spacingAndGlyphs" stroke="#000" stroke-width="0.15">Quarter Relative to WtW Entry</text>
<text transform="translate(242.80,268.90) rotate(-90)" x="0" y="0" font-size="9" font-weight="normal" text-anchor="middle" fill="#222" textLength="63.40" lengthAdjust="spacingAndGlyphs">Percent Employed</text>
<text transform="translate(441.10,269.10) rotate(-90)" x="0" y="0" font-size="9" font-weight="normal" text-anchor="middle" fill="#222" textLength="65.30" lengthAdjust="spacingAndGlyphs">Quarterly Earnings</text>
<text x="311.10" y="202.00" font-size="9.8" font-weight="bold" text-anchor="start" fill="#000" textLength="58.30" lengthAdjust="spacingAndGlyphs">Ft. Worth, TX</text>
<line x1="43.8" y1="425.5" x2="169" y2="425.5" stroke="#bcbcbc" stroke-width="1.3" stroke-dasharray="2 3.4"/>
<line x1="43.8" y1="448.5" x2="169" y2="448.5" stroke="#bcbcbc" stroke-width="1.3" stroke-dasharray="2 3.4"/>
<line x1="43.7" y1="471.5" x2="169" y2="471.5" stroke="#8e8e8e" stroke-width="1.8" stroke-dasharray="2.6 2.8"/>
<line x1="43.8" y1="494.5" x2="169" y2="494.5" stroke="#bcbcbc" stroke-width="1.3" stroke-dasharray="2 3.4"/>
<line x1="39" y1="401.5" x2="169" y2="401.5" stroke="#9c9c9c" stroke-width="1"/>
<line x1="44.6" y1="402.5" x2="169" y2="402.5" stroke="#dcdcdc" stroke-width="1" stroke-dasharray="2 3.4"/>
<polyline points="46.50,474.30 61.00,470.50 75.50,466.60 90.00,465.40 104.50,460.40 119.00,459.00 133.50,466.00 148.00,467.30 162.50,468.40" fill="none" stroke="#000" stroke-width="1.7" stroke-linejoin="round"/>
<polyline points="46.50,488.00 61.00,486.60 75.50,487.20 90.00,490.00 104.50,484.50 119.00,480.00 133.50,479.70 148.00,477.20 162.50,478.00" fill="none" stroke="#000" stroke-width="2.1" stroke-dasharray="6.7 8.20" stroke-dashoffset="4.75" stroke-linejoin="round"/>
<rect x="97.5" y="402.5" width="14" height="115" fill="#808080" stroke="#000" stroke-width="1"/>
<line x1="39.5" y1="401" x2="39.5" y2="518" stroke="#000" stroke-width="1"/>
<line x1="169.5" y1="401" x2="169.5" y2="518" stroke="#000" stroke-width="1"/>
<line x1="36" y1="517.5" x2="173" y2="517.5" stroke="#000" stroke-width="1"/>
<line x1="36" y1="401.5" x2="43" y2="401.5" stroke="#000" stroke-width="1"/>
<line x1="166" y1="401.5" x2="173" y2="401.5" stroke="#000" stroke-width="1"/>
<line x1="36" y1="425.5" x2="43" y2="425.5" stroke="#000" stroke-width="1"/>
<line x1="166" y1="425.5" x2="173" y2="425.5" stroke="#000" stroke-width="1"/>
<line x1="36" y1="448.5" x2="43" y2="448.5" stroke="#000" stroke-width="1"/>
<line x1="166" y1="448.5" x2="173" y2="448.5" stroke="#000" stroke-width="1"/>
<line x1="36" y1="471.5" x2="43" y2="471.5" stroke="#000" stroke-width="1"/>
<line x1="166" y1="471.5" x2="173" y2="471.5" stroke="#000" stroke-width="1"/>
<line x1="36" y1="494.5" x2="43" y2="494.5" stroke="#000" stroke-width="1"/>
<line x1="166" y1="494.5" x2="173" y2="494.5" stroke="#000" stroke-width="1"/>
<line x1="36" y1="517.5" x2="43" y2="517.5" stroke="#000" stroke-width="1"/>
<line x1="166" y1="517.5" x2="173" y2="517.5" stroke="#000" stroke-width="1"/>
<line x1="39.5" y1="514" x2="39.5" y2="521" stroke="#000" stroke-width="1"/>
<line x1="53.5" y1="514" x2="53.5" y2="521" stroke="#000" stroke-width="1"/>
<line x1="68.5" y1="514" x2="68.5" y2="521" stroke="#000" stroke-width="1"/>
<line x1="82.5" y1="514" x2="82.5" y2="521" stroke="#000" stroke-width="1"/>
<line x1="97.5" y1="514" x2="97.5" y2="521" stroke="#000" stroke-width="1"/>
<line x1="111.5" y1="514" x2="111.5" y2="521" stroke="#000" stroke-width="1"/>
<line x1="126.5" y1="514" x2="126.5" y2="521" stroke="#000" stroke-width="1"/>
<line x1="140.5" y1="514" x2="140.5" y2="521" stroke="#000" stroke-width="1"/>
<line x1="155.5" y1="514" x2="155.5" y2="521" stroke="#000" stroke-width="1"/>
<line x1="169.5" y1="514" x2="169.5" y2="521" stroke="#000" stroke-width="1"/>
<text x="33.80" y="404.20" font-size="9.6" font-weight="normal" text-anchor="end" fill="#000" textLength="21.30" lengthAdjust="spacingAndGlyphs" stroke="#000" stroke-width="0.15">100%</text>
<text x="175.60" y="404.20" font-size="9.6" font-weight="normal" text-anchor="start" fill="#000" textLength="24.00" lengthAdjust="spacingAndGlyphs" stroke="#000" stroke-width="0.15">$3,000</text>
<text x="33.80" y="428.20" font-size="9.6" font-weight="normal" text-anchor="end" fill="#000" textLength="16.30" lengthAdjust="spacingAndGlyphs" stroke="#000" stroke-width="0.15">80%</text>
<text x="175.60" y="428.20" font-size="9.6" font-weight="normal" text-anchor="start" fill="#000" textLength="24.00" lengthAdjust="spacingAndGlyphs" stroke="#000" stroke-width="0.15">$2,400</text>
<text x="33.80" y="451.20" font-size="9.6" font-weight="normal" text-anchor="end" fill="#000" textLength="16.30" lengthAdjust="spacingAndGlyphs" stroke="#000" stroke-width="0.15">60%</text>
<text x="175.60" y="451.20" font-size="9.6" font-weight="normal" text-anchor="start" fill="#000" textLength="24.00" lengthAdjust="spacingAndGlyphs" stroke="#000" stroke-width="0.15">$1,800</text>
<text x="33.80" y="474.20" font-size="9.6" font-weight="normal" text-anchor="end" fill="#000" textLength="16.30" lengthAdjust="spacingAndGlyphs" stroke="#000" stroke-width="0.15">40%</text>
<text x="175.60" y="474.20" font-size="9.6" font-weight="normal" text-anchor="start" fill="#000" textLength="24.00" lengthAdjust="spacingAndGlyphs" stroke="#000" stroke-width="0.15">$1,200</text>
<text x="33.80" y="497.20" font-size="9.6" font-weight="normal" text-anchor="end" fill="#000" textLength="16.30" lengthAdjust="spacingAndGlyphs" stroke="#000" stroke-width="0.15">20%</text>
<text x="175.60" y="497.20" font-size="9.6" font-weight="normal" text-anchor="start" fill="#000" textLength="17.40" lengthAdjust="spacingAndGlyphs" stroke="#000" stroke-width="0.15">$600</text>
<text x="33.80" y="520.20" font-size="9.6" font-weight="normal" text-anchor="end" fill="#000" textLength="11.00" lengthAdjust="spacingAndGlyphs" stroke="#000" stroke-width="0.15">0%</text>
<text x="175.60" y="520.20" font-size="9.6" font-weight="normal" text-anchor="start" fill="#000" textLength="8.60" lengthAdjust="spacingAndGlyphs" stroke="#000" stroke-width="0.15">$0</text>
<text x="46.50" y="532.80" font-size="9.8" font-weight="normal" text-anchor="middle" fill="#000" textLength="6.60" lengthAdjust="spacingAndGlyphs" stroke="#000" stroke-width="0.15">-4</text>
<text x="61.00" y="532.80" font-size="9.8" font-weight="normal" text-anchor="middle" fill="#000" textLength="6.60" lengthAdjust="spacingAndGlyphs" stroke="#000" stroke-width="0.15">-3</text>
<text x="75.50" y="532.80" font-size="9.8" font-weight="normal" text-anchor="middle" fill="#000" textLength="6.60" lengthAdjust="spacingAndGlyphs" stroke="#000" stroke-width="0.15">-2</text>
<text x="90.00" y="532.80" font-size="9.8" font-weight="normal" text-anchor="middle" fill="#000" textLength="6.60" lengthAdjust="spacingAndGlyphs" stroke="#000" stroke-width="0.15">-1</text>
<text x="104.50" y="532.80" font-size="9.8" font-weight="normal" text-anchor="middle" fill="#000" textLength="4.60" lengthAdjust="spacingAndGlyphs" stroke="#000" stroke-width="0.15">0</text>
<text x="119.00" y="532.80" font-size="9.8" font-weight="normal" text-anchor="middle" fill="#000" textLength="4.60" lengthAdjust="spacingAndGlyphs" stroke="#000" stroke-width="0.15">1</text>
<text x="133.50" y="532.80" font-size="9.8" font-weight="normal" text-anchor="middle" fill="#000" textLength="4.60" lengthAdjust="spacingAndGlyphs" stroke="#000" stroke-width="0.15">2</text>
<text x="148.00" y="532.80" font-size="9.8" font-weight="normal" text-anchor="middle" fill="#000" textLength="4.60" lengthAdjust="spacingAndGlyphs" stroke="#000" stroke-width="0.15">3</text>
<text x="162.50" y="532.80" font-size="9.8" font-weight="normal" text-anchor="middle" fill="#000" textLength="4.60" lengthAdjust="spacingAndGlyphs" stroke="#000" stroke-width="0.15">4</text>
<text x="51.30" y="547.80" font-size="9.4" font-weight="normal" text-anchor="start" fill="#000" textLength="108.50" lengthAdjust="spacingAndGlyphs" stroke="#000" stroke-width="0.15">Quarter Relative to WtW Entry</text>
<text transform="translate(9.90,458.70) rotate(-90)" x="0" y="0" font-size="9" font-weight="normal" text-anchor="middle" fill="#222" textLength="62.00" lengthAdjust="spacingAndGlyphs">Percent Employed</text>
<text transform="translate(208.80,459.10) rotate(-90)" x="0" y="0" font-size="9" font-weight="normal" text-anchor="middle" fill="#222" textLength="65.30" lengthAdjust="spacingAndGlyphs">Quarterly Earnings</text>
<text x="75.60" y="392.70" font-size="9.8" font-weight="bold" text-anchor="start" fill="#000" textLength="63.30" lengthAdjust="spacingAndGlyphs">Milwaukee, WI</text>
<line x1="277.5" y1="427" x2="277.5" y2="491.5" stroke="#6a6a6a" stroke-width="1.2"/>
<line x1="277" y1="427.5" x2="405" y2="427.5" stroke="#6a6a6a" stroke-width="1.2"/>
<line x1="404.5" y1="427" x2="404.5" y2="491.5" stroke="#000" stroke-width="1.1"/>
<line x1="277" y1="490.8" x2="405" y2="490.8" stroke="#303030" stroke-width="1.3"/>
<line x1="290" y1="442" x2="318.5" y2="442" stroke="#000" stroke-width="2"/>
<text x="319.20" y="446.30" font-size="9.4" font-weight="bold" text-anchor="start" fill="#000" textLength="73.50" lengthAdjust="spacingAndGlyphs">Employment Rate</text>
<line x1="290" y1="474" x2="318" y2="474" stroke="#000" stroke-width="2.2" stroke-dasharray="4.3 6.7"/>
<text x="319.70" y="477.00" font-size="9.4" font-weight="bold" text-anchor="start" fill="#000" textLength="36.80" lengthAdjust="spacingAndGlyphs">Earnings</text>
<text x="247.30" y="538.80" font-size="7.6" font-weight="normal" text-anchor="start" fill="#000" textLength="186.50" lengthAdjust="spacingAndGlyphs" style="white-space:pre" stroke="#000" stroke-width="0.15">Data source:  state unemployment insurance earnings records</text>
<text x="247.30" y="549.00" font-size="7.6" font-weight="normal" text-anchor="start" fill="#000" textLength="77.30" lengthAdjust="spacingAndGlyphs" style="white-space:pre" stroke="#000" stroke-width="0.15">Reference:  Exhibit D.1.a</text>
</svg>
</body></html>
